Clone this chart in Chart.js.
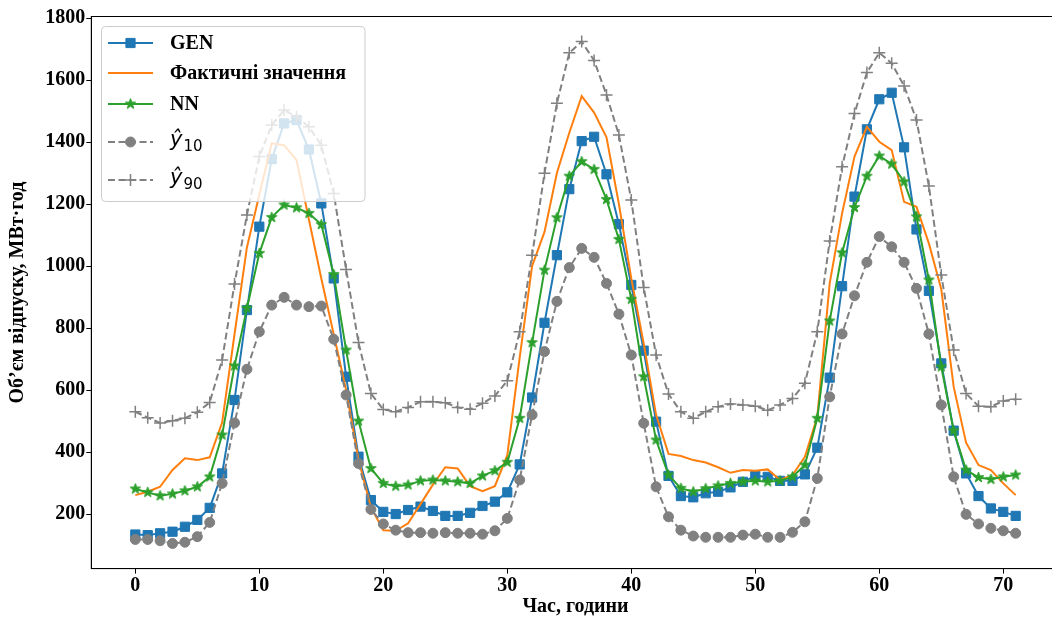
<!DOCTYPE html>
<html>
<head>
<meta charset="utf-8">
<script src="https://cdn.jsdelivr.net/npm/chart.js@4.4.0/dist/chart.umd.min.js"></script>
<style>
html, body { margin: 0; padding: 0; background: #fff; overflow: hidden; }
#wrap { width: 1070px; height: 619px; }
</style>
</head>
<body>
<div id="wrap"><canvas id="grafico"></canvas></div>
<script>
// години
const horas = [0,1,2,3,4,5,6,7,8,9,10,11,12,13,14,15,16,17,18,19,20,21,22,23,24,25,26,27,28,29,30,31,32,33,34,35,
               36,37,38,39,40,41,42,43,44,45,46,47,48,49,50,51,52,53,54,55,56,57,58,59,60,61,62,63,64,65,66,67,68,69,70,71];

const gen = [134,132,138,143,159,181,220,331,568,858,1127,1345,1460,1471,1376,1202,960,643,385,245,
             207,200,213,224,210,194,194,204,226,240,270,360,576,817,1035,1248,1403,1417,1296,1135,
             939,727,498,323,258,254,267,272,286,304,323,320,307,307,328,414,640,935,1224,1441,
             1538,1559,1383,1118,920,686,469,331,258,218,207,194];

const fakt = [261,272,288,342,380,374,383,495,780,1060,1230,1396,1390,1342,1150,960,780,600,375,222,
              148,146,170,232,295,351,347,290,274,290,390,705,1000,1110,1300,1430,1548,1495,1415,1200,
              960,750,520,394,387,374,366,351,333,342,340,344,310,326,385,514,944,1170,1353,1449,
              1401,1374,1207,1191,1073,925,610,430,358,342,299,261];

const nn = [281,270,259,265,275,288,320,455,678,864,1041,1157,1197,1188,1170,1134,973,729,500,347,
            299,290,294,307,310,307,304,299,323,340,367,509,753,987,1156,1290,1337,1312,1215,1086,
            893,643,439,326,283,272,282,291,299,304,307,304,307,320,358,509,823,1043,1189,1290,
            1355,1329,1272,1159,955,675,469,342,318,312,320,326];

const y10 = [118,118,114,105,109,127,173,299,494,667,788,874,899,874,869,871,764,584,363,215,
             168,148,140,140,138,140,138,138,135,146,186,310,520,724,886,995,1057,1028,944,845,
             713,493,288,191,148,129,125,125,125,132,135,125,125,141,175,315,578,781,904,1012,
             1095,1062,1012,928,781,552,320,199,168,154,146,138];

const y90 = [530,511,494,501,509,528,560,697,942,1165,1353,1455,1503,1482,1449,1390,1234,989,753,589,
             537,530,544,562,562,559,544,538,557,581,630,788,1035,1299,1525,1688,1724,1663,1552,1423,
             1213,931,713,587,530,509,530,546,555,552,548,535,552,573,622,788,1081,1320,1492,1624,
             1688,1654,1581,1471,1258,971,729,589,548,546,565,570];

const ticksX = [0, 10, 20, 30, 40, 50, 60, 70];
const ticksY = [200, 400, 600, 800, 1000, 1200, 1400, 1600, 1800];

const tituloX = 'Час, години';
const tituloY = 'Об\u2019єм відпуску, МВт·год';

const AZUL = '#1f77b4', LARANJA = '#ff7f0e', VERDE = '#2ca02c', CINZA = '#808080';
const FONTE = '"Liberation Serif", "Times New Roman", serif';

function pontos(valores) {
    return horas.map((h, i) => ({ x: h, y: valores[i] }));
}

function fazerEstrela(r, cor) {
    const c = document.createElement('canvas');
    const s = Math.ceil(r * 2 + 2);
    c.width = s; c.height = s;
    const g = c.getContext('2d');
    g.fillStyle = cor; g.strokeStyle = cor; g.lineWidth = 1;
    g.beginPath();
    for (let i = 0; i < 10; i++) {
        const ang = -Math.PI / 2 + i * Math.PI / 5;
        const rr = i % 2 === 0 ? r : r * 0.4;
        g.lineTo(s / 2 + rr * Math.cos(ang), s / 2 + rr * Math.sin(ang));
    }
    g.closePath(); g.fill(); g.stroke();
    return c;
}
const estrela = fazerEstrela(5.5, VERDE);

// moldura do gráfico (4 lados)
const moldura = {
    id: 'moldura',
    afterDatasetsDraw(chart) {
        const { ctx, chartArea: a } = chart;
        ctx.save();
        ctx.strokeStyle = '#000';
        ctx.lineWidth = 1;
        ctx.strokeRect(a.left, a.top, a.right - a.left, a.bottom - a.top);
        ctx.restore();
    }
};

// legenda no estilo do matplotlib
const legenda = {
    id: 'legenda',
    afterDatasetsDraw(chart) {
        const ctx = chart.ctx;
        const linhasY = [43, 73, 104, 142, 180];
        ctx.save();
        ctx.beginPath();
        ctx.roundRect(101.5, 26.5, 263.5, 175, 4);
        ctx.fillStyle = 'rgba(255,255,255,0.8)';
        ctx.fill();
        ctx.strokeStyle = '#cccccc';
        ctx.lineWidth = 1;
        ctx.stroke();

        chart.data.datasets.forEach((ds, i) => {
            const y = linhasY[i];
            ctx.save();
            ctx.strokeStyle = ds.borderColor;
            ctx.lineWidth = ds.borderWidth;
            ctx.setLineDash(ds.borderDash || []);
            ctx.beginPath();
            ctx.moveTo(108, y);
            ctx.lineTo(153, y);
            ctx.stroke();
            ctx.setLineDash([]);
            if (ds.pointStyle && ds.pointRadius > 0) {
                ctx.fillStyle = ds.pointBackgroundColor || ds.borderColor;
                ctx.strokeStyle = ds.pointBorderColor || ds.borderColor;
                ctx.lineWidth = ds.pointBorderWidth || 1;
                Chart.helpers.drawPoint(ctx, {
                    pointStyle: ds.pointStyle,
                    radius: ds.pointRadius,
                    borderWidth: ds.pointBorderWidth || 1
                }, 130.5, y);
            }
            ctx.restore();
            ctx.fillStyle = '#000';
            ctx.textBaseline = 'middle';
            ctx.textAlign = 'left';
            if (ds.label.startsWith('ŷ')) {
                ctx.font = 'italic 21px "DejaVu Sans"';
                ctx.fillText('ŷ', 170, y - 1);
                const w = ctx.measureText('ŷ').width;
                ctx.font = '15px "DejaVu Sans"';
                ctx.fillText(ds.label.slice(1), 170 + w + 1, y + 5);
            } else {
                ctx.font = 'bold 20px ' + FONTE;
                ctx.fillText(ds.label, 170, y + 1);
            }
        });
        ctx.restore();
    }
};

new Chart(document.getElementById('grafico'), {
    type: 'line',
    data: {
        datasets: [
            {
                label: 'GEN', data: pontos(gen), order: 5,
                borderColor: AZUL, backgroundColor: AZUL, borderWidth: 2,
                pointStyle: 'rect', pointRadius: 6.5, pointBackgroundColor: AZUL, pointBorderColor: AZUL, pointBorderWidth: 1
            },
            {
                label: 'Фактичні значення', data: pontos(fakt), order: 4,
                borderColor: LARANJA, backgroundColor: LARANJA, borderWidth: 2,
                pointRadius: 0
            },
            {
                label: 'NN', data: pontos(nn), order: 3,
                borderColor: VERDE, backgroundColor: VERDE, borderWidth: 2,
                pointStyle: estrela, pointRadius: 5
            },
            {
                label: 'ŷ10', data: pontos(y10), order: 2,
                borderColor: CINZA, backgroundColor: CINZA, borderWidth: 2, borderDash: [7, 3.5],
                pointStyle: 'circle', pointRadius: 5, pointBackgroundColor: CINZA, pointBorderColor: CINZA, pointBorderWidth: 1
            },
            {
                label: 'ŷ90', data: pontos(y90), order: 1,
                borderColor: CINZA, backgroundColor: CINZA, borderWidth: 2, borderDash: [7, 3.5],
                pointStyle: 'cross', pointRadius: 6, pointBackgroundColor: CINZA, pointBorderColor: CINZA, pointBorderWidth: 1.5
            }
        ]
    },
    options: {
        responsive: true,
        maintainAspectRatio: false,
        animation: false,
        events: [],
        layout: { padding: { top: 16.5, right: 10.3, bottom: 0, left: 0 } },
        plugins: {
            legend: { display: false },
            tooltip: { enabled: false }
        },
        scales: {
            x: {
                type: 'linear', min: -3.55, max: 74.55,
                afterBuildTicks: s => { s.ticks = ticksX.map(v => ({ value: v })); },
                afterFit: s => { s.height = 50.4; },
                grid: { drawOnChartArea: false, drawTicks: true, tickLength: 5, color: '#000' },
                border: { display: true, color: '#000', width: 1 },
                ticks: { color: '#000', padding: 0, maxRotation: 0, font: { family: FONTE, size: 20, weight: 'bold' }, callback: v => String(v) },
                title: { display: true, text: tituloX, color: '#000', padding: { top: 0, bottom: 0 }, font: { family: FONTE, size: 20, weight: 'bold' } }
            },
            y: {
                type: 'linear', min: 24, max: 1805,
                afterBuildTicks: s => { s.ticks = ticksY.map(v => ({ value: v })); },
                afterFit: s => { s.width = 91.3; },
                grid: { drawOnChartArea: false, drawTicks: true, tickLength: 5, color: '#000' },
                border: { display: true, color: '#000', width: 1 },
                ticks: { color: '#000', padding: 1, font: { family: FONTE, size: 20, weight: 'bold' }, callback: v => String(v) },
                title: { display: true, text: tituloY, color: '#000', padding: { top: 6, bottom: 0 }, font: { family: FONTE, size: 20, weight: 'bold' } }
            }
        }
    },
    plugins: [moldura, legenda]
});
</script>
</body>
</html>
